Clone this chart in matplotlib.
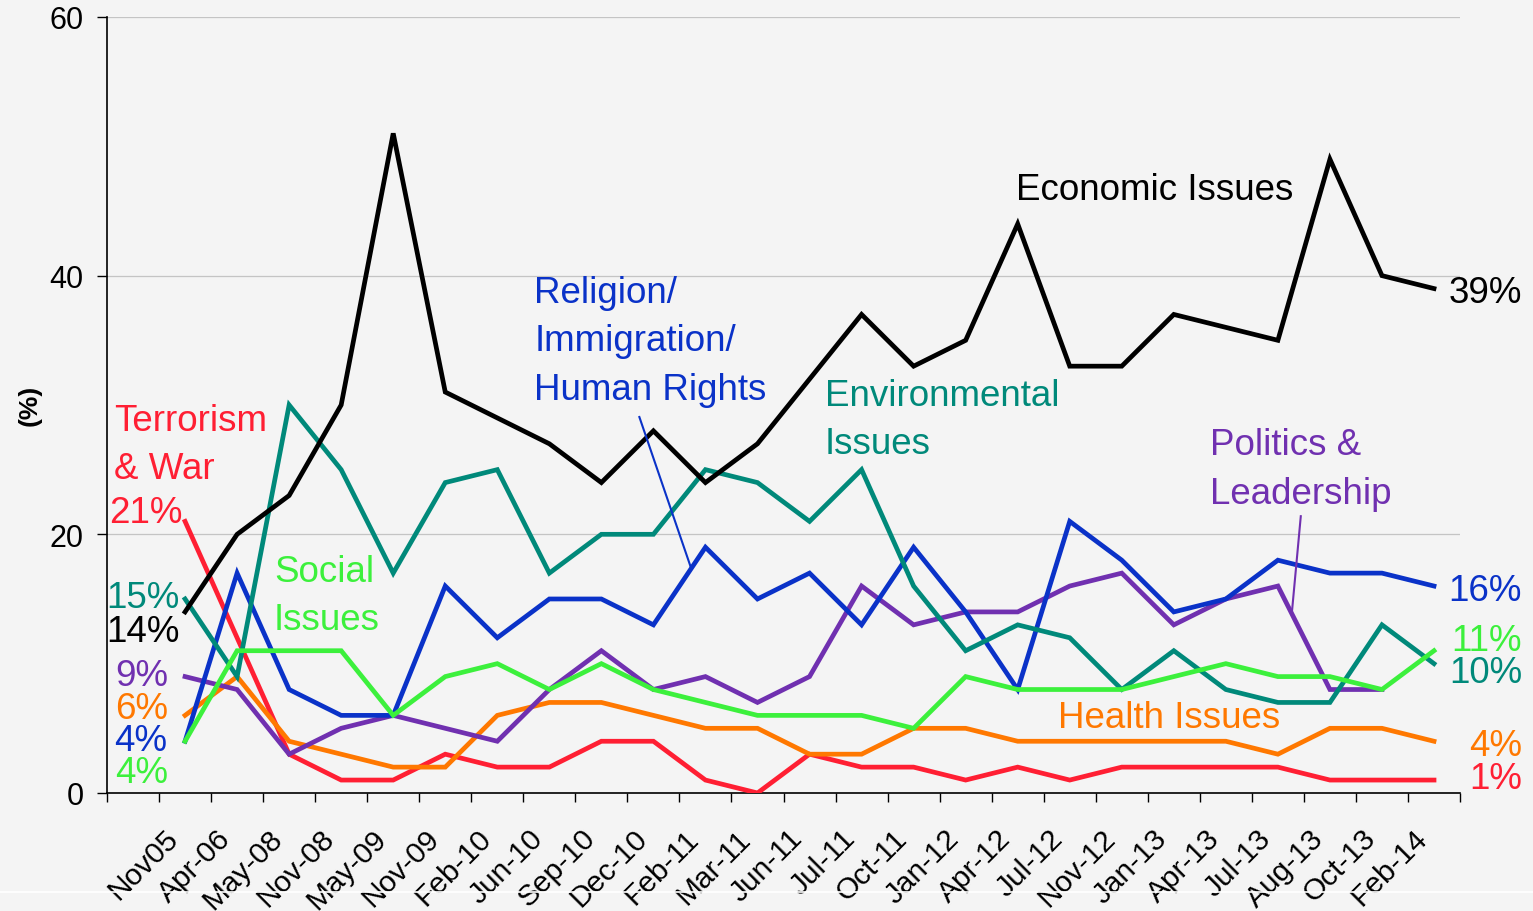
import matplotlib.pyplot as plt
import numpy as np
from matplotlib.lines import Line2D
from matplotlib.transforms import ScaledTranslation

plt.rcParams["font.family"] = ["Liberation Sans", "DejaVu Sans"]

# ── Survey waves and share of mentions (%) per issue ────────────────────────
waves = ["Nov05", "Apr-06", "May-08", "Nov-08", "May-09", "Nov-09", "Feb-10",
         "Jun-10", "Sep-10", "Dec-10", "Feb-11", "Mar-11", "Jun-11", "Jul-11",
         "Oct-11", "Jan-12", "Apr-12", "Jul-12", "Nov-12", "Jan-13", "Apr-13",
         "Jul-13", "Aug-13", "Oct-13", "Feb-14"]

economic = [14, 20, 23, 30, 51, 31, 29, 27, 24, 28, 24, 27, 32, 37, 33, 35,
            44, 33, 33, 37, 36, 35, 49, 40, 39]
terrorism = [21, 12, 3, 1, 1, 3, 2, 2, 4, 4, 1, 0, 3, 2, 2, 1, 2, 1, 2, 2, 2,
             2, 1, 1, 1]
environmental = [15, 9, 30, 25, 17, 24, 25, 17, 20, 20, 25, 24, 21, 25, 16,
                 11, 13, 12, 8, 11, 8, 7, 7, 13, 10]
religion = [4, 17, 8, 6, 6, 16, 12, 15, 15, 13, 19, 15, 17, 13, 19, 14, 8, 21,
            18, 14, 15, 18, 17, 17, 16]
politics = [9, 8, 3, 5, 6, 5, 4, 8, 11, 8, 9, 7, 9, 16, 13, 14, 14, 16, 17,
            13, 15, 16, 8, 8, np.nan]
social = [4, 11, 11, 11, 6, 9, 10, 8, 10, 8, 7, 6, 6, 6, 5, 9, 8, 8, 8, 9, 10,
          9, 9, 8, 11]
health = [6, 9, 4, 3, 2, 2, 6, 7, 7, 6, 5, 5, 3, 3, 5, 5, 4, 4, 4, 4, 4, 3, 5,
          5, 4]

# ── Colours ──────────────────────────────────────────────────────────────────
c_econ = "#000000"
c_terr = "#ff1f33"
c_env = "#00897a"
c_rel = "#0a32c8"
c_pol = "#7030b0"
c_soc = "#3cf03c"
c_health = "#ff7800"
bg = "#f4f4f4"

x = np.arange(len(waves))

fig = plt.figure(figsize=(15.33, 9.12), dpi=100, facecolor=bg)
ax = fig.add_axes([0.0698, 0.1294, 0.8826, 0.8509], facecolor=bg)

lw = 3.4
for series, col in [(terrorism, c_terr), (health, c_health), (politics, c_pol),
                    (religion, c_rel), (environmental, c_env), (social, c_soc),
                    (economic, c_econ)]:
    ax.plot(x, series, color=col, linewidth=lw, solid_joinstyle="miter",
            zorder=3)

ax.set_xlim(-1.5, len(waves) - 0.5)
ax.set_ylim(0, 60)

# ── Axes styling ─────────────────────────────────────────────────────────────
for side in ["top", "right"]:
    ax.spines[side].set_visible(False)
for side in ["left", "bottom"]:
    ax.spines[side].set_color("black")
    ax.spines[side].set_linewidth(1.2)

ax.set_yticks([0, 20, 40, 60])
ax.tick_params(axis="y", labelsize=22, length=7, width=1.0, pad=10,
               direction="out")
ax.yaxis.grid(True, color="#c4c4c4", linewidth=0.9)
ax.set_axisbelow(True)

ax.set_xticks(x)
ax.set_xticks(np.arange(-1.5, len(waves)), minor=True)
ax.tick_params(axis="x", which="major", length=0, pad=22)
ax.tick_params(axis="x", which="minor", length=6.5, width=1.0,
               direction="out")
labels = ax.set_xticklabels(waves, rotation=45, ha="right", va="top",
                            rotation_mode="anchor", fontsize=21.5)
shift = ScaledTranslation(-15 / 72, 0, fig.dpi_scale_trans)
for lbl in labels:
    lbl.set_transform(lbl.get_transform() + shift)

fig.text(30 / 1533, 1 - 405 / 912, "(%)", rotation=90, fontsize=19,
         fontweight="bold", ha="center", va="center")

# ── Series names ─────────────────────────────────────────────────────────────
fs = 26.5
ls = 1.49
ax.text(15.96, 46.65, "Economic Issues", color=c_econ, fontsize=fs,
        va="center")
ax.text(6.71, 34.95, "Religion/\nImmigration/\nHuman Rights", color=c_rel,
        fontsize=fs, va="center", linespacing=ls)
ax.text(12.29, 28.9, "Environmental\nIssues", color=c_env, fontsize=fs,
        va="center", linespacing=ls)
ax.text(-1.37, 26.95, "Terrorism\n& War", color=c_terr, fontsize=fs,
        va="center", linespacing=ls)
ax.text(1.71, 15.25, "Social\nIssues", color=c_soc, fontsize=fs,
        va="center", linespacing=ls)
ax.text(19.69, 25.05, "Politics &\nLeadership", color=c_pol, fontsize=fs,
        va="center", linespacing=ls)
ax.text(16.77, 5.8, "Health Issues", color=c_health, fontsize=fs,
        va="center")

# leader lines from names to their series
ax.plot([8.73, 9.71], [29.07, 17.55], color=c_rel, linewidth=1.5, zorder=4)
ax.plot([21.44, 21.27], [21.4, 14.0], color=c_pol, linewidth=1.5, zorder=4)

# ── First and last values ────────────────────────────────────────────────────
def pct(v):
    return f"{v:.0f}%"

first = [
    (terrorism, c_terr, -1.46, 21.65),
    (environmental, c_env, -1.52, 15.15),
    (economic, c_econ, -1.52, 12.5),
    (politics, c_pol, -1.35, 9.1),
    (health, c_health, -1.35, 6.55),
    (religion, c_rel, -1.37, 4.08),
    (social, c_soc, -1.35, 1.6),
]
for series, col, tx, ty in first:
    ax.text(tx, ty, pct(series[0]), color=col, fontsize=fs, va="center",
            ha="left")

last = [
    (economic, c_econ, 38.72),
    (religion, c_rel, 15.68),
    (social, c_soc, 11.78),
    (environmental, c_env, 9.3),
    (health, c_health, 3.69),
    (terrorism, c_terr, 1.14),
]
for series, col, ty in last:
    ax.text(25.69, ty, pct(series[-1]), color=col, fontsize=fs, va="center",
            ha="right")

fig.add_artist(Line2D([0, 1], [1 - 893 / 912] * 2, color="white",
                      linewidth=1.2, transform=fig.transFigure))

fig.savefig("out.png", dpi=100, facecolor=bg)
